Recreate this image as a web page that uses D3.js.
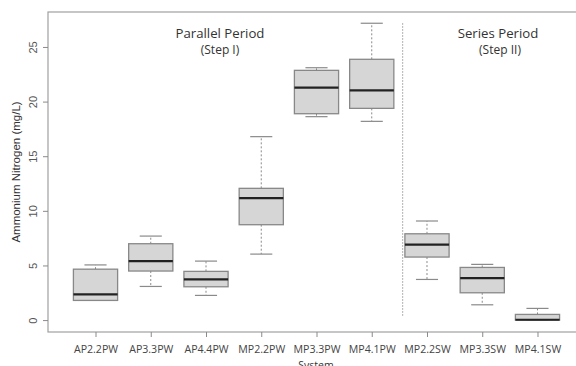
<!DOCTYPE html>
<html>
<head>
<meta charset="utf-8">
<script src="https://cdn.jsdelivr.net/npm/d3@7"></script>
<style>
  body { margin: 0; background: #fff; }
  svg { display: block; }
</style>
</head>
<body>
<div id="chart"></div>
<script>
const width = 576;
const height = 366;

// one entry per box
const systems = ["AP2.2PW", "AP3.3PW", "AP4.4PW", "MP2.2PW", "MP3.3PW", "MP4.1PW", "MP2.2SW", "MP3.3SW", "MP4.1SW"];
const lowWhisker = [1.80, 3.08, 2.26, 6.04, 18.62, 18.19, 3.72, 1.40, 0.00];
const q1 = [1.80, 4.49, 3.05, 8.73, 18.89, 19.38, 5.77, 2.50, 0.00];
const medians = [2.35, 5.40, 3.72, 11.17, 21.27, 21.03, 6.90, 3.85, 0.03];
const q3 = [4.66, 6.99, 4.46, 12.06, 22.86, 23.87, 7.90, 4.82, 0.52];
const highWhisker = [5.05, 7.69, 5.40, 16.79, 23.10, 27.17, 9.07, 5.10, 1.07];
const yTicks = [0, 5, 10, 15, 20, 25];
const divider = { x: 6.56, y0: 0.4, y1: 27.2 };

const margin = { left: 48, top: 12, right: -9, bottom: 34 };

const svg = d3.select("#chart")
  .append("svg")
  .attr("width", width)
  .attr("height", height);

// R style: positions 1..n, limits padded by 4%
const x = d3.scaleLinear()
  .domain([0.14, 9.86])
  .range([margin.left, width - margin.right]);

const y = d3.scaleLinear()
  .domain([-1.09, 28.2])
  .range([height - margin.bottom, margin.top]);

const boxW = 0.8 * (x(2) - x(1));
const grey = "#8a8a8a";

// frame
svg.append("rect")
  .attr("x", margin.left)
  .attr("y", margin.top)
  .attr("width", width - margin.right - margin.left)
  .attr("height", height - margin.bottom - margin.top)
  .attr("fill", "none")
  .attr("stroke", "#a0a0a0")
  .attr("stroke-width", 1.2);

// y axis
const yAxis = svg.append("g")
  .attr("transform", `translate(${margin.left},0)`)
  .call(d3.axisLeft(y).tickValues(yTicks).tickSize(5).tickFormat(d3.format("d")));
yAxis.select(".domain").remove();
yAxis.selectAll("line").attr("stroke", grey);
yAxis.selectAll("text")
  .attr("x", null)
  .attr("dy", null)
  .attr("transform", "translate(-11,0) rotate(-90)")
  .attr("text-anchor", "middle")
  .attr("fill", "#555")
  .style("font-family", "'Liberation Sans', Arial, sans-serif")
  .style("font-size", "11px");

// x axis
const xAxis = svg.append("g")
  .attr("transform", `translate(0,${height - margin.bottom})`)
  .call(d3.axisBottom(x).tickValues(d3.range(1, systems.length + 1)).tickSize(5).tickFormat(d => systems[d - 1]));
xAxis.select(".domain").remove();
xAxis.selectAll("line").attr("stroke", grey);
xAxis.selectAll("text")
  .attr("y", 17)
  .attr("dy", "0.35em")
  .attr("fill", "#444")
  .style("font-family", "'Open Sans', sans-serif")
  .style("font-size", "10.6px");

const idx = d3.range(systems.length);
const g = svg.append("g");

// whiskers
g.selectAll(".wh-hi").data(idx).enter().append("line")
  .attr("x1", i => x(i + 1)).attr("x2", i => x(i + 1))
  .attr("y1", i => y(q3[i])).attr("y2", i => y(highWhisker[i]))
  .attr("stroke", grey).attr("stroke-dasharray", "2,2");
g.selectAll(".wh-lo").data(idx).enter().append("line")
  .attr("x1", i => x(i + 1)).attr("x2", i => x(i + 1))
  .attr("y1", i => y(q1[i])).attr("y2", i => y(lowWhisker[i]))
  .attr("stroke", grey).attr("stroke-dasharray", "2,2");

// caps
[highWhisker, lowWhisker].forEach(arr => {
  g.selectAll(null).data(idx).enter().append("line")
    .attr("x1", i => x(i + 1) - boxW / 4).attr("x2", i => x(i + 1) + boxW / 4)
    .attr("y1", i => y(arr[i])).attr("y2", i => y(arr[i]))
    .attr("stroke", grey).attr("stroke-width", 1.2);
});

// boxes
g.selectAll(".box").data(idx).enter().append("rect")
  .attr("x", i => x(i + 1) - boxW / 2)
  .attr("width", boxW)
  .attr("y", i => y(q3[i]))
  .attr("height", i => y(q1[i]) - y(q3[i]))
  .attr("fill", "#d6d6d6")
  .attr("stroke", "#888")
  .attr("stroke-width", 1.3);

// medians
g.selectAll(".med").data(idx).enter().append("line")
  .attr("x1", i => x(i + 1) - boxW / 2).attr("x2", i => x(i + 1) + boxW / 2)
  .attr("y1", i => y(medians[i])).attr("y2", i => y(medians[i]))
  .attr("stroke", "#222").attr("stroke-width", 2.2);

// period divider
svg.append("line")
  .attr("x1", x(divider.x)).attr("x2", x(divider.x))
  .attr("y1", y(divider.y0)).attr("y2", y(divider.y1))
  .attr("stroke", "#999").attr("stroke-dasharray", "1.5,1.5");

// annotations
const note = (txt, cx, cy, size) => svg.append("text")
  .attr("x", cx).attr("y", cy)
  .attr("text-anchor", "middle")
  .attr("fill", "#333")
  .style("font-family", "'Open Sans', sans-serif")
  .style("font-size", size + "px")
  .text(txt);

note("Parallel Period", 220, 38, 13.2);
note("(Step I)", 220, 54, 12);
note("Series Period", 498, 38, 13.2);
note("(Step II)", 500, 54, 12);

// axis titles
svg.append("text")
  .attr("transform", `translate(20,${(margin.top + height - margin.bottom) / 2}) rotate(-90)`)
  .attr("text-anchor", "middle")
  .attr("fill", "#333")
  .style("font-family", "'Liberation Sans', Arial, sans-serif")
  .style("font-size", "11.5px")
  .text("Ammonium Nitrogen (mg/L)");

svg.append("text")
  .attr("x", 316).attr("y", 369)
  .attr("text-anchor", "middle")
  .attr("fill", "#333")
  .style("font-family", "'Open Sans', sans-serif")
  .style("font-size", "10.5px")
  .text("System");
</script>
</body>
</html>
